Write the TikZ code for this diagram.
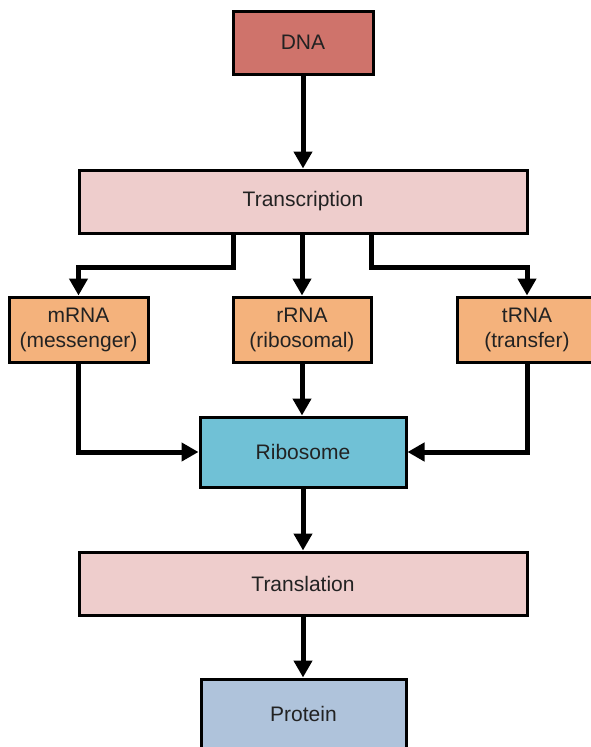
\documentclass[tikz,border=0pt]{standalone}
\usepackage{fontspec}
\setmainfont{Liberation Sans}
\usetikzlibrary{arrows.meta,calc}
\definecolor{dnacol}{HTML}{CF736B}
\definecolor{pinkcol}{HTML}{EECDCC}
\definecolor{orangecol}{HTML}{F4B27C}
\definecolor{ribocol}{HTML}{70C1D6}
\definecolor{protcol}{HTML}{AFC3DB}
\definecolor{txtcol}{HTML}{222222}
\begin{document}
\begin{tikzpicture}[x=1pt,y=-1pt,
  box/.style={draw=black,line width=3pt,rectangle,inner sep=0pt,align=center,
    text=txtcol,font=\fontsize{21}{25}\selectfont},
  arr/.style={line width=5pt,-{Triangle[width=18pt,length=17pt]}}]
\clip (0,0) rectangle (591,747);
\fill[white] (0,0) rectangle (591,747);
\node[box,fill=dnacol,minimum width=140pt,minimum height=63pt] (dna) at (303,42.5) {DNA};
\node[box,fill=pinkcol,minimum width=448pt,minimum height=63pt] (tr) at (303,201.5) {Transcription};
\node[box,fill=orangecol,minimum width=139pt,minimum height=65pt] (m) at (78.5,329.5) {mRNA\\(messenger)};
\node[box,fill=orangecol,minimum width=138pt,minimum height=65pt] (r) at (302,329.5) {rRNA\\(ribosomal)};
\node[box,fill=orangecol,minimum width=140pt,minimum height=65pt] (t) at (527,329.5) {tRNA\\(transfer)};
\node[box,fill=ribocol,minimum width=206pt,minimum height=70pt] (rib) at (303,452) {Ribosome};
\node[box,fill=pinkcol,minimum width=448pt,minimum height=63pt] (tl) at (303,583.5) {Translation};
\node[box,fill=protcol,minimum width=205pt,minimum height=70pt] (p) at (303.5,714) {Protein};
\draw[arr] (dna.south) -- (tr.north);
\draw[arr] ([xshift=-70pt]tr.south) -- ++(0,33) -| (m.north);
\draw[arr] (r.north |- tr.south) -- (r.north);
\draw[arr] ([xshift=68pt]tr.south) -- ++(0,33) -| (t.north);
\draw[arr] (m.south) |- (rib.west);
\draw[arr] (r.south) -- (r.south |- rib.north);
\draw[arr] (t.south) |- (rib.east);
\draw[arr] (rib.south) -- (tl.north);
\draw[arr] (tl.south) -- (p.north -| tl.south);
\end{tikzpicture}
\end{document}
